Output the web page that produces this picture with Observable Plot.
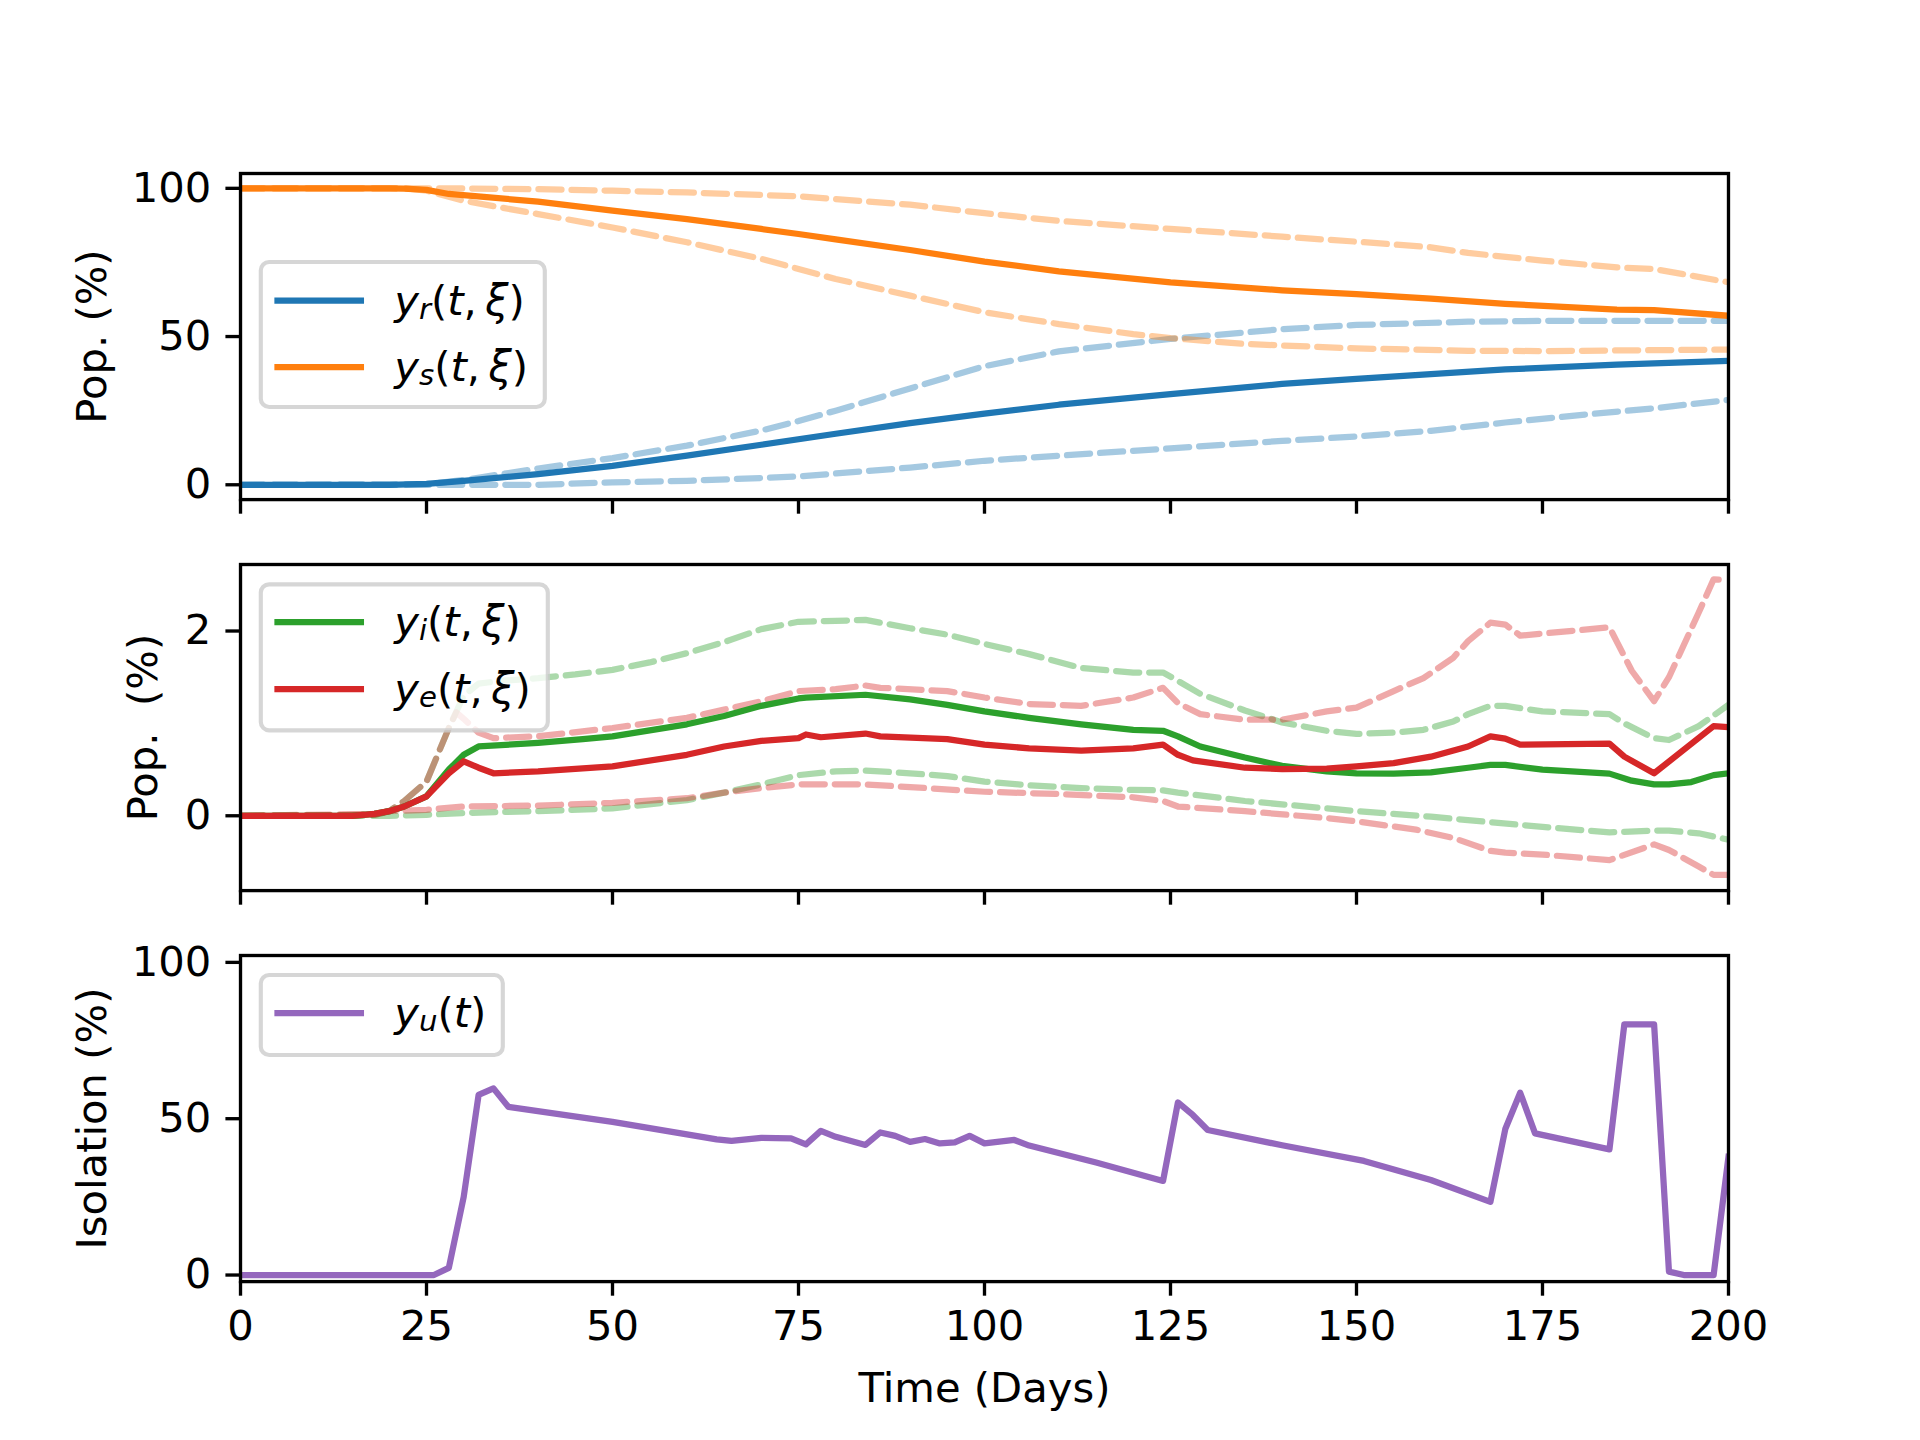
<!DOCTYPE html>
<html><head><meta charset="utf-8">
<script src="https://cdn.jsdelivr.net/npm/d3@7"></script>
<script src="https://cdn.jsdelivr.net/npm/@observablehq/plot@0.6"></script>
<style>
html,body{margin:0;padding:0;background:#fff;}
#fig{position:relative;width:1920px;height:1440px;overflow:hidden;background:#fff;font-family:"DejaVu Sans";}
#fig > svg{position:absolute;left:0;}
</style></head><body><div id="fig"></div>
<script>
// ---------- data: [day, percent] ----------
const xTicks = [0, 25, 50, 75, 100, 125, 150, 175, 200];
const yTicksPop = [0, 50, 100];
const yTicksInf = [0, 2];
const yTicksIso = [0, 50, 100];

const ysMean = [[0,100],[20,100],[22,99.9],[25,99.5],[28,98.1],[40,95.5],[50,92.5],[60,89.6],[70,86.3],[75,84.6],[80,82.8],[90,79.2],[100,75.3],[110,72.0],[125,68.3],[140,65.6],[150,64.3],[160,62.8],[170,61.0],[185,59.1],[190,58.9],[200,57.0]];
const ysUpper = [[0,100],[28,100],[40,99.7],[50,99.2],[60,98.6],[75,97.3],[90,94.5],[100,91.6],[110,89.0],[125,86.3],[140,83.7],[150,82.0],[160,80.1],[165,78.2],[175,75.6],[185,73.3],[190,72.8],[200,68.3]];
const ysLower = [[0,100],[22,100],[25,99.2],[30,95.8],[40,91.3],[50,86.8],[60,81.8],[70,76.2],[75,72.8],[80,69.4],[90,63.8],[100,58.2],[110,54.2],[120,50.8],[125,49.5],[135,47.5],[150,46.0],[165,45.2],[175,45.1],[200,45.6]];
const yrMean = [[0,0],[20,0],[25,0.3],[30,1.3],[40,3.6],[50,6.4],[60,9.8],[70,13.5],[80,17.2],[90,20.8],[100,24.0],[110,27.0],[125,30.6],[140,34.0],[150,35.7],[170,38.9],[185,40.5],[200,41.8]];
const yrUpper = [[0,0],[25,0.2],[30,1.6],[40,5.5],[50,9.0],[60,13.2],[70,18.3],[75,21.5],[80,25.0],[90,32.5],[100,40.0],[110,45.0],[125,49.2],[140,52.5],[150,53.9],[165,55.0],[175,55.3],[200,55.3]];
const yrLower = [[0,0],[40,0],[50,0.8],[60,1.3],[75,2.8],[90,5.8],[100,8.1],[110,9.8],[125,12.3],[140,14.8],[150,16.3],[160,18.2],[170,21.0],[180,23.5],[190,25.8],[200,28.6]];

const yiMean = [[0,0],[15,0],[18,0.02],[20,0.05],[22,0.1],[25,0.21],[28,0.5],[30,0.66],[32,0.75],[40,0.79],[46,0.83],[50,0.86],[60,0.99],[65,1.08],[70,1.19],[75,1.27],[76,1.28],[84,1.31],[90,1.26],[95,1.2],[100,1.13],[106,1.06],[113,0.99],[120,0.93],[124,0.92],[126,0.86],[129,0.75],[135,0.63],[140,0.54],[146,0.48],[150,0.46],[155,0.456],[160,0.47],[165,0.52],[168,0.55],[170,0.55],[175,0.5],[184,0.456],[187,0.38],[190,0.34],[192,0.34],[195,0.365],[198,0.44],[200,0.46]];
const yiUpper = [[0,0],[18,0.01],[20,0.05],[22,0.16],[25,0.37],[28,0.95],[30,1.3],[32,1.43],[35,1.46],[40,1.49],[45,1.53],[50,1.58],[55,1.66],[60,1.76],[65,1.88],[70,2.02],[75,2.1],[80,2.11],[84,2.12],[90,2.03],[95,1.96],[100,1.86],[106,1.75],[113,1.6],[120,1.55],[124,1.55],[126,1.46],[129,1.32],[135,1.14],[140,1.01],[146,0.92],[150,0.886],[155,0.9],[159,0.93],[163,1.02],[165,1.1],[168,1.19],[170,1.19],[175,1.13],[184,1.1],[186,1.0],[190,0.84],[192,0.82],[196,0.97],[200,1.2]];
const yiLower = [[0,0],[20,0],[25,0.01],[30,0.03],[40,0.05],[50,0.08],[60,0.17],[65,0.25],[70,0.34],[75,0.44],[80,0.48],[84,0.49],[90,0.46],[95,0.43],[100,0.37],[106,0.33],[113,0.3],[120,0.28],[124,0.275],[126,0.25],[135,0.16],[146,0.08],[150,0.05],[160,-0.01],[168,-0.07],[175,-0.12],[184,-0.18],[190,-0.16],[192,-0.16],[196,-0.19],[200,-0.26]];

const yeMean = [[0,0],[15,0],[18,0.02],[20,0.05],[22,0.1],[25,0.21],[28,0.46],[30,0.59],[32,0.52],[34,0.46],[40,0.48],[50,0.535],[60,0.66],[65,0.75],[70,0.81],[75,0.84],[76,0.88],[78,0.85],[84,0.89],[86,0.86],[95,0.83],[100,0.77],[106,0.73],[113,0.705],[120,0.73],[124,0.77],[126,0.66],[128,0.6],[135,0.52],[140,0.506],[146,0.51],[150,0.535],[155,0.57],[160,0.64],[165,0.75],[168,0.86],[170,0.835],[172,0.77],[184,0.78],[186,0.64],[190,0.46],[198,0.97],[200,0.96]];
const yeUpper = [[0,0],[18,0.01],[20,0.05],[22,0.16],[25,0.37],[28,0.95],[29,1.12],[30,1.05],[32,0.9],[34,0.84],[40,0.86],[50,0.95],[60,1.06],[65,1.15],[70,1.24],[75,1.35],[80,1.37],[84,1.41],[86,1.385],[95,1.35],[100,1.28],[106,1.21],[113,1.19],[120,1.28],[124,1.385],[126,1.22],[129,1.1],[135,1.04],[140,1.04],[146,1.13],[150,1.17],[155,1.35],[159,1.49],[163,1.71],[165,1.89],[168,2.09],[170,2.07],[172,1.95],[184,2.04],[187,1.57],[190,1.24],[192,1.5],[196,2.2],[198,2.56],[200,2.55]];
const yeLower = [[0,0],[18,0.02],[20,0.05],[25,0.065],[30,0.1],[40,0.11],[50,0.14],[60,0.19],[65,0.25],[70,0.3],[75,0.34],[80,0.34],[84,0.34],[90,0.31],[100,0.26],[110,0.235],[120,0.2],[124,0.16],[126,0.1],[135,0.05],[146,-0.025],[150,-0.06],[158,-0.15],[163,-0.24],[168,-0.38],[170,-0.4],[175,-0.42],[184,-0.48],[190,-0.31],[192,-0.37],[196,-0.55],[198,-0.64],[200,-0.64]];

const yu = [[0,0],[26,0],[28,2.3],[30,25],[32,57.6],[34,59.7],[36,53.8],[50,49.0],[64,43.4],[66,42.9],[70,43.9],[74,43.7],[76,41.8],[78,46.1],[80,44.2],[84,41.6],[86,45.6],[88,44.5],[90,42.6],[92,43.5],[94,42.1],[96,42.4],[98,44.5],[100,42.1],[104,43.2],[106,41.4],[115,36.0],[124,30.1],[126,55.2],[128,51.2],[130,46.4],[140,41.5],[151,36.5],[160,30.4],[168,23.4],[170,46.7],[172,58.3],[174,45.3],[184,40.2],[186,80.2],[190,80.2],[192,1.1],[194,0],[198,0],[200,37.8]];

// ---------- style ----------
const C = {blue:"#1f77b4", orange:"#ff7f0e", green:"#2ca02c", red:"#d62728", purple:"#9467bd"};
const LW = 6.25, FS = 41.7, TICK = 14.6, SPINE = 3.33;
const PANEL_H = 326.1, MT = 20;
const rows = p => p.map(([t, v]) => ({t, v}));
const solid = (p, c) => Plot.line(rows(p), {x:"t", y:"v", stroke:c, strokeWidth:LW, strokeLinejoin:"round", strokeLinecap:"square", clip:true});
const dashed = (p, c) => Plot.line(rows(p), {x:"t", y:"v", stroke:c, strokeOpacity:0.4, strokeWidth:LW, strokeDasharray:"23.1,10", strokeLinejoin:"round", clip:true});

const fig = document.getElementById("fig");

function panel({frameTop, yDomain, yTicks, yLabel, yLabelOffset, marks, xLabels}) {
  const mb = xLabels ? 150 : 40;
  const svg = Plot.plot({
    width: 1920, height: MT + PANEL_H + mb,
    marginTop: MT, marginBottom: mb, marginLeft: 240, marginRight: 192,
    style: {fontFamily: "DejaVu Sans", fontSize: FS + "px", color: "black", background: "transparent", overflow: "visible"},
    x: {domain: [0, 200]},
    y: {domain: yDomain},
    marks: [
      ...marks,
      Plot.frame({stroke: "black", strokeWidth: SPINE}),
      Plot.axisX({ticks: xTicks, tickSize: TICK, tickPadding: TICK, strokeWidth: SPINE, fontSize: FS,
        tickFormat: xLabels ? (d => String(d)) : (() => ""),
        label: xLabels ? "Time (Days)" : null, labelAnchor: "center", labelArrow: "none", labelOffset: 120}),
      Plot.axisY({ticks: yTicks, tickSize: TICK, tickPadding: TICK, strokeWidth: SPINE, fontSize: FS,
        tickFormat: d => String(d),
        label: yLabel, labelAnchor: "center", labelArrow: "none", labelOffset: yLabelOffset})
    ]
  });
  svg.style.top = (frameTop - MT) + "px";
  fig.appendChild(svg);
}

panel({frameTop: 172.8, yDomain: [-5, 105], yTicks: yTicksPop, yLabel: "Pop. (%)", yLabelOffset: 164.6,
  marks: [dashed(yrUpper, C.blue), dashed(yrLower, C.blue), dashed(ysUpper, C.orange), dashed(ysLower, C.orange),
          solid(yrMean, C.blue), solid(ysMean, C.orange)]});
panel({frameTop: 564.1, yDomain: [-0.81, 2.72], yTicks: yTicksInf, yLabel: "Pop.\u00a0\u00a0(%)", yLabelOffset: 113,
  marks: [dashed(yiUpper, C.green), dashed(yiLower, C.green), dashed(yeUpper, C.red), dashed(yeLower, C.red),
          solid(yiMean, C.green), solid(yeMean, C.red)]});
panel({frameTop: 955.4, yDomain: [-2.1, 102.2], yTicks: yTicksIso, yLabel: "Isolation (%)", yLabelOffset: 164.6, xLabels: true,
  marks: [solid(yu, C.purple)]});

// ---------- legends (overlay) ----------
const ov = d3.create("svg").attr("width", 1920).attr("height", 1440)
  .style("top", "0px").style("font-family", "DejaVu Sans").style("font-size", FS + "px");
function legend(x, y, w, h, entries) {
  const g = ov.append("g");
  g.append("rect").attr("x", x).attr("y", y).attr("width", w).attr("height", h)
    .attr("rx", 8.3).attr("ry", 8.3).attr("fill", "white").attr("fill-opacity", 0.8)
    .attr("stroke", "#cccccc").attr("stroke-opacity", 0.8).attr("stroke-width", 4.17);
  for (const e of entries) {
    g.append("line").attr("x1", x + 16.7).attr("x2", x + 16.7 + 83.4).attr("y1", e.y).attr("y2", e.y)
      .attr("stroke", e.color).attr("stroke-width", LW).attr("stroke-linecap", "square");
    const t = g.append("text").attr("x", x + 16.7 + 83.4 + 33.4).attr("y", e.y + 14).attr("fill", "black");
    t.append("tspan").attr("font-style", "italic").text("y");
    t.append("tspan").attr("font-style", "italic").attr("font-size", 29.2).attr("dy", 4).text(e.sub);
    t.append("tspan").attr("dy", -4).text("(");
    t.append("tspan").attr("font-style", "italic").text("t");
    if (e.xi) {
      t.append("tspan").text(",");
      t.append("tspan").attr("font-style", "italic").text("\u2009\u03be");
    }
    t.append("tspan").text(")");
  }
}
legend(260.8, 262, 284, 145, [{y: 300.5, color: C.blue, sub: "r", xi: true}, {y: 367, color: C.orange, sub: "s", xi: true}]);
legend(260.8, 584.3, 287, 146, [{y: 622, color: C.green, sub: "i", xi: true}, {y: 689, color: C.red, sub: "e", xi: true}]);
legend(260.8, 975, 242, 80, [{y: 1013, color: C.purple, sub: "u", xi: false}]);
fig.appendChild(ov.node());
</script></body></html>
